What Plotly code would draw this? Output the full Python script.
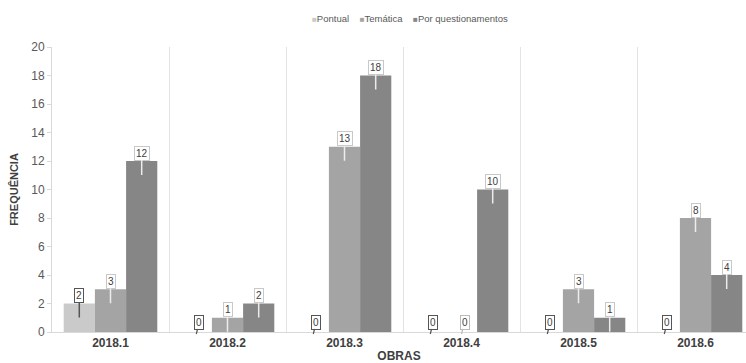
import plotly.graph_objects as go

obras = ["2018.1", "2018.2", "2018.3", "2018.4", "2018.5", "2018.6"]
series_names = ["Pontual", "Temática", "Por questionamentos"]
pontual = [2, 0, 0, 0, 0, 0]
tematica = [3, 1, 13, 0, 3, 8]
questionamentos = [12, 2, 18, 10, 1, 4]
y_ticks = [0, 2, 4, 6, 8, 10, 12, 14, 16, 18, 20]

values = [pontual, tematica, questionamentos]
bar_colors = ["#cacaca", "#a4a4a4", "#868686"]
label_borders = ["#555555", "#c8c8c8", "#c8c8c8"]
pointer_colors = ["#555555", "#ececec", "#ececec"]
FONT = "Liberation Sans, Arial, sans-serif"

fig = go.Figure()
for name, vals, col in zip(series_names, values, bar_colors):
    fig.add_trace(go.Bar(x=obras, y=vals, name=name, marker_color=col,
                         marker_line_width=0, showlegend=False))

# Callout labels above each bar
group_width = 0.8
n = len(values)
bw = group_width / n
for k, vals in enumerate(values):
    for i, v in enumerate(vals):
        xpos = i - group_width / 2 + bw * (k + 0.5)
        common = dict(x=xpos, y=v, xref="x", yref="y", text=str(v), showarrow=True,
                      arrowhead=0, bgcolor="white", borderwidth=1, borderpad=1,
                      font=dict(family=FONT, size=10, color="#404040"))
        if v == 0:
            edge = label_borders[0] if k == 0 else "#bbbbbb"
            fig.add_annotation(**common, ax=3, ay=-12, yshift=-2, arrowwidth=1.2,
                               arrowcolor=edge, bordercolor=edge)
        else:
            fig.add_annotation(**common, ax=0, ay=-22, yshift=-14, arrowwidth=1.5,
                               arrowcolor=pointer_colors[k], bordercolor=label_borders[k])

# Compact legend with small square markers
legend_html = "&nbsp;&nbsp;&nbsp;&nbsp;".join(
    f"<span style='color:{c}; font-size:8px'>■</span>{nm}"
    for nm, c in zip(series_names, bar_colors)
)
fig.add_annotation(x=(410 - 52) / 694, y=1.1, xref="paper", yref="paper", xanchor="center",
                   yanchor="middle", showarrow=False, text=legend_html,
                   font=dict(family=FONT, size=9.5, color="#595959"))

fig.update_layout(
    width=746, height=363,
    margin=dict(l=52, r=0, t=47, b=31),
    paper_bgcolor="white", plot_bgcolor="white",
    barmode="group", bargap=0.2, bargroupgap=0,
    font=dict(family=FONT, size=11, color="#595959"),
)
fig.update_xaxes(
    type="category", tickson="boundaries", showgrid=True, gridcolor="#e3e3e3",
    gridwidth=1, showline=True, linecolor="#d9d9d9", ticks="",
    range=[-0.5, -0.5 + 694 / 117],
    tickfont=dict(size=12, color="#404040", family=FONT),
    tickprefix="<b>", ticksuffix="</b>",
    title=dict(text="<b>OBRAS</b>", font=dict(size=12, color="#404040"), standoff=3),
)
fig.update_yaxes(
    range=[0, 20], tickvals=y_ticks, showgrid=False, showline=True,
    linecolor="#d9d9d9", ticks="outside", ticklen=4, tickcolor="#d9d9d9",
    tickfont=dict(size=12, color="#595959"), zeroline=False,
    title=dict(text="<b>FREQUÊNCIA</b>", font=dict(size=11, color="#404040"), standoff=10),
)
fig.write_html("out.html")
